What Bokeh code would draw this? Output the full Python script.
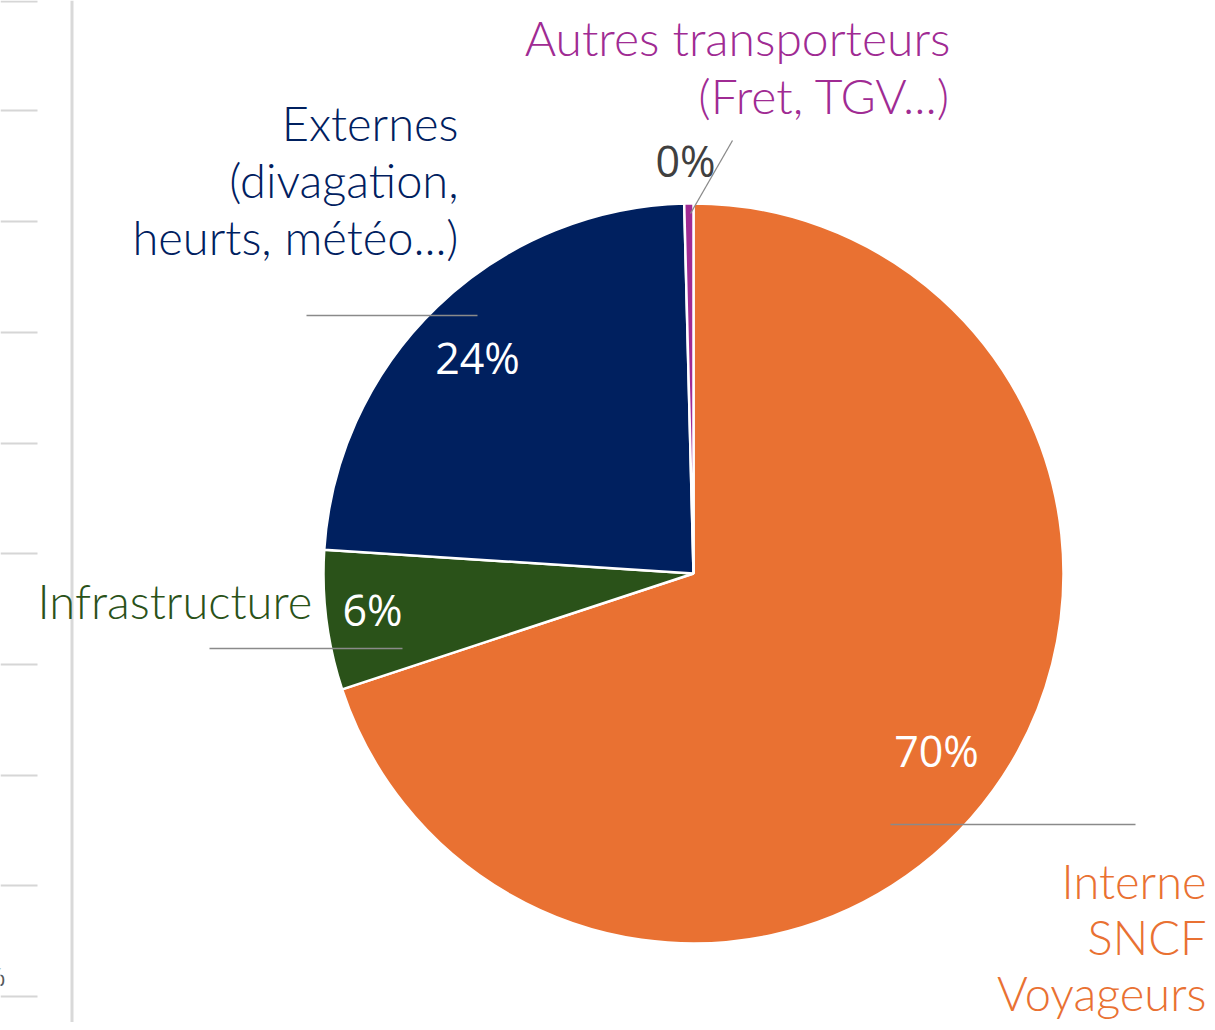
import math
from bokeh.plotting import figure
from bokeh.models import Range1d, ColumnDataSource
from bokeh.core.properties import value
from bokeh.embed import file_html
from bokeh.resources import INLINE

# ---- data ----
categories = ["Interne SNCF Voyageurs", "Infrastructure",
              "Externes (divagation, heurts, météo...)", "Autres transporteurs (Fret, TGV...)"]
shares = [70.0, 6.1, 23.6, 0.4]
colors = ["#E97132", "#2A5219", "#00205F", "#A02B93"]
label_lines = [["Interne", "SNCF", "Voyageurs"],
               ["Infrastructure"],
               ["Externes", "(divagation,", "heurts, météo...)"],
               ["Autres transporteurs", "(Fret, TGV...)"]]
pct_colors = ["white", "white", "white", "#404040"]
left_grid_y = [1, 110, 221, 332, 443, 553, 664, 775, 885, 996]

W, H = 1207, 1022
def Y(sy):
    return H - sy

TXT_SHIFT = 18  # compensation for baseline placement

p = figure(width=W, height=H, output_backend="svg", toolbar_location=None,
           x_range=Range1d(0, W), y_range=Range1d(0, H),
           min_border=0, outline_line_color=None)
p.axis.visible = False
p.grid.visible = False
p.background_fill_color = "white"

# fragment of neighbouring chart on the left
p.segment(x0=[0] * len(left_grid_y), x1=[37] * len(left_grid_y),
          y0=[Y(v) for v in left_grid_y], y1=[Y(v) for v in left_grid_y],
          line_color="#d6d6d6", line_width=2)
p.segment(x0=[71.5], x1=[71.5], y0=[Y(0)], y1=[Y(1030)], line_color="#d9d9d9", line_width=3)
p.text(x=[5], y=[Y(984 - TXT_SHIFT * 0.5)], text=["%"], text_color="#595959",
       text_font=value("Open Sans"), text_font_size="26px",
       text_align="right", text_baseline="alphabetic")

# pie
cx, cy, R = 693, Y(573), 370
total = sum(shares)
starts, ends = [], []
cum = 0.0
for s in shares:
    starts.append(math.pi / 2 - 2 * math.pi * cum / total)
    cum += s
    ends.append(math.pi / 2 - 2 * math.pi * cum / total)
src = ColumnDataSource(dict(start=starts, end=ends, color=colors, cat=categories))
p.wedge(x=cx, y=cy, radius=R, start_angle="start", end_angle="end", direction="clock",
        fill_color="color", line_color="white", line_width=2.5, source=src)

# leader lines
p.segment(x0=[306, 209, 890, 690], y0=[Y(315), Y(648), Y(824), Y(213)],
          x1=[477, 402, 1135, 732], y1=[Y(315), Y(648), Y(824), Y(140)],
          line_color="#8a8a8a", line_width=1.3)

# percentage labels
pct_text = [f"{round(s)}%" for s in shares]
pct_base = [768, 627, 375, 178]
p.text(x=[936, 372, 477, 685], y=[Y(b - TXT_SHIFT) for b in pct_base], text=pct_text,
       text_color=pct_colors, text_font=value("Open Sans"), text_font_size="43px",
       text_align="center", text_baseline="alphabetic")

# category labels
anchors = [(1206, 898, "right"), (37, 618, "left"), (458, 140, "right"), (950, 55, "right")]
sizes = ["47px", "47px", "47px", "48px"]
gaps = [56, 57, 57, 58]
for lines, col, (ax, ay, al), fs, g in zip(label_lines, colors, anchors, sizes, gaps):
    ys = [Y(ay - TXT_SHIFT + i * g) for i in range(len(lines))]
    p.text(x=[ax] * len(lines), y=ys, text=lines, text_color=col,
           text_font=value("Lato Light, Lato"), text_font_size=fs,
           text_align=al, text_baseline="alphabetic")

open("out.html", "w").write(file_html(p, INLINE))
